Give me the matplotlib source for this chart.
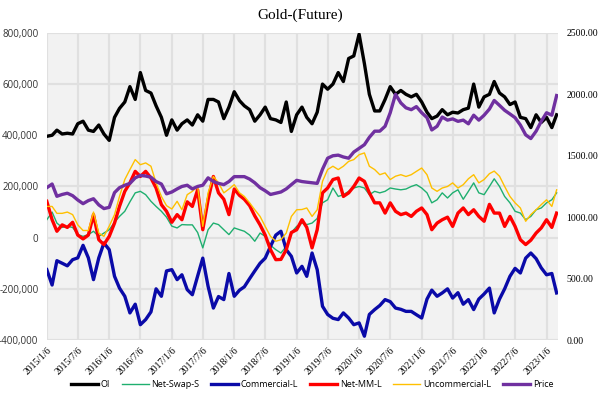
import numpy as np
import pandas as pd
import matplotlib
matplotlib.use("Agg")
import matplotlib.pyplot as plt
from matplotlib.ticker import FuncFormatter, MultipleLocator

# monthly readings, Jan 2015 .. Mar 2023 (contracts in thousands, price in USD)
dates = pd.date_range("2015-01-01", periods=99, freq="MS") + pd.Timedelta(days=5)

oi = [396, 400, 420, 405, 408, 405, 445, 455, 420, 415,
      440, 405, 380, 470, 505, 530, 590, 540, 645, 575,
      565, 515, 470, 400, 460, 420, 445, 460, 440, 480,
      455, 540, 540, 530, 465, 510, 570, 535, 515, 500,
      455, 480, 510, 465, 460, 450, 530, 415, 480, 510,
      470, 445, 490, 600, 580, 600, 645, 610, 700, 710,
      795, 680, 560, 495, 495, 540, 590, 560, 575, 560,
      550, 560, 530, 490, 465, 475, 500, 480, 490, 487,
      500, 506, 600, 510, 550, 560, 610, 565, 550, 520,
      530, 470, 465, 430, 480, 450, 470, 430, 480]

net_swap_s = [70, 100, 57, 40, 44, 40, 12, 5, 12, 25,
              5, 18, 31, 60, 83, 103, 140, 175, 181, 168,
              142, 122, 103, 80, 45, 38, 51, 50, 50, 20,
              -40, 31, 57, 51, 31, 12, 38, 31, 25, 10,
              -14, 18, 5, -30, -47, -60, -34, 20, 44, 57,
              51, 57, 75, 136, 148, 194, 161, 168, 181, 194,
              200, 194, 168, 181, 175, 181, 194, 190, 187, 190,
              200, 207, 194, 175, 136, 148, 175, 155, 175, 187,
              150, 181, 214, 175, 168, 200, 230, 200, 161, 136,
              103, 96, 70, 83, 109, 116, 136, 148, 175]

commercial_l = [-125, -185, -90, -100, -110, -86, -79, -30, -79, -164,
                -79, -21, -47, -151, -197, -229, -294, -260, -340, -320,
                -290, -200, -229, -130, -125, -164, -145, -203, -223, -150,
                -80, -190, -275, -230, -242, -140, -229, -205, -192, -160,
                -130, -100, -80, -34, 10, 25, -47, -73, -138, -112,
                -151, -60, -125, -268, -300, -315, -320, -294, -314, -340,
                -333, -385, -300, -281, -265, -242, -250, -275, -280, -288,
                -288, -301, -314, -240, -205, -229, -216, -200, -236, -215,
                -260, -242, -281, -240, -220, -197, -294, -240, -200, -151,
                -120, -138, -80, -60, -82, -118, -145, -140, -216]

net_mm_l = [142, 70, 25, 50, 40, 60, 10, -5, 10, 90,
            -8, -27, 5, 57, 122, 181, 214, 259, 239, 259,
            233, 194, 129, 103, 60, 90, 70, 140, 122, 187,
            31, 148, 239, 175, 150, 90, 190, 165, 150, 125,
            85, 50, 10, -47, -86, -85, -47, 20, 31, 70,
            40, -40, 31, 175, 194, 227, 233, 161, 175, 200,
            233, 220, 175, 136, 136, 96, 136, 103, 90, 96,
            83, 103, 116, 90, 31, 57, 70, 80, 44, 96,
            116, 90, 109, 83, 64, 130, 96, 96, 44, 83,
            44, -8, -27, -10, 18, 38, 70, 40, 96]

uncommercial_l = [122, 122, 95, 95, 100, 90, 50, 28, 28, 100,
                  18, 5, 45, 90, 161, 227, 266, 305, 285, 292,
                  279, 214, 161, 125, 112, 142, 109, 168, 181, 200,
                  44, 175, 239, 214, 175, 190, 207, 175, 161, 136,
                  109, 83, 44, 5, -14, -8, 18, 83, 109, 110,
                  116, 83, 109, 220, 266, 279, 266, 279, 298, 305,
                  324, 331, 279, 266, 246, 253, 227, 240, 246, 239,
                  246, 259, 272, 246, 194, 181, 194, 200, 214, 194,
                  207, 230, 246, 214, 227, 250, 260, 240, 200, 161,
                  136, 116, 64, 90, 109, 129, 148, 122, 187]

price = [1240, 1270, 1170, 1185, 1195, 1175, 1140, 1110, 1135, 1150,
         1100, 1070, 1080, 1200, 1240, 1260, 1275, 1320, 1340, 1335,
         1325, 1290, 1270, 1190, 1205, 1230, 1250, 1260, 1230, 1250,
         1260, 1320, 1290, 1275, 1265, 1290, 1330, 1330, 1330, 1310,
         1280, 1240, 1215, 1185, 1195, 1205, 1230, 1265, 1300, 1290,
         1285, 1280, 1275, 1390, 1480, 1500, 1505, 1490, 1480, 1530,
         1560, 1590, 1650, 1700, 1700, 1740, 1850, 2000, 1930, 1890,
         1875, 1900, 1850, 1810, 1710, 1740, 1815, 1790, 1800, 1780,
         1790, 1760, 1830, 1790, 1830, 1880, 1950, 1910, 1870, 1840,
         1810, 1750, 1670, 1640, 1700, 1780, 1850, 1830, 1990]

tick_dates = [pd.Timestamp(y, m, 6) for y in range(2015, 2024) for m in (1, 7)][:17]

left_series = [
    ("OI", oi, "#000000", 2.4),
    ("Net-Swap-S", net_swap_s, "#1FAF6F", 1.0),
    ("Commercial-L", commercial_l, "#0A0AA8", 2.4),
    ("Net-MM-L", net_mm_l, "#FF0000", 2.4),
    ("Uncommercial-L", uncommercial_l, "#FFC000", 1.0),
]

fig = plt.figure(figsize=(6, 4.01), dpi=100)
ax = fig.add_axes([0.078, 0.152, 0.852, 0.766])
ax.set_facecolor("#F2F2F2")
ax2 = ax.twinx()

handles = []
for name, vals, col, lw in left_series:
    h, = ax.plot(dates, np.array(vals) * 1000, color=col, lw=lw, label=name,
                 solid_joinstyle="round")
    handles.append(h)
h, = ax2.plot(dates, price, color="#7030A0", lw=2.4, label="Price")
handles.append(h)

ax.set_ylim(-400000, 800000)
ax.yaxis.set_major_locator(MultipleLocator(200000))
ax.yaxis.set_major_formatter(FuncFormatter(lambda v, p: f"{v:,.0f}"))
ax2.set_ylim(0, 2500)
ax2.yaxis.set_major_locator(MultipleLocator(500))
ax2.yaxis.set_major_formatter(FuncFormatter(lambda v, p: f"{v:.2f}"))

ax.set_xlim(pd.Timestamp("2015-01-06"), pd.Timestamp("2023-03-14"))
ax.set_xticks(tick_dates)
ax.set_xticklabels([f"{d.year}/{d.month}/{d.day}" for d in tick_dates],
                   rotation=45, ha="right", rotation_mode="anchor",
                   family="Liberation Serif", fontsize=7)

ax.grid(True, color="#E0E0E0", lw=1.6)
ax.set_axisbelow(True)
for a in (ax, ax2):
    for s in a.spines.values():
        s.set_visible(False)
    a.tick_params(length=0)
ax.tick_params(axis="y", labelsize=7, pad=6)
ax.tick_params(axis="x", pad=4)
ax2.tick_params(axis="y", labelsize=7, pad=6)
for t in ax.get_yticklabels():
    t.set_family("Open Sans")
    t.set_color("#333333")
for t in ax2.get_yticklabels():
    t.set_family("Liberation Serif")

fig.text(0.5, 0.963, "Gold-(Future)", ha="center", va="center",
         family="Liberation Serif", fontsize=11)

fig.legend(handles=handles, loc="center", bbox_to_anchor=(0.52, 0.04), ncol=6,
           frameon=False, handlelength=3.0, columnspacing=1.3,
           handletextpad=0.3, prop={"family": "Open Sans", "size": 6.5})

fig.savefig("out.png", dpi=100)
